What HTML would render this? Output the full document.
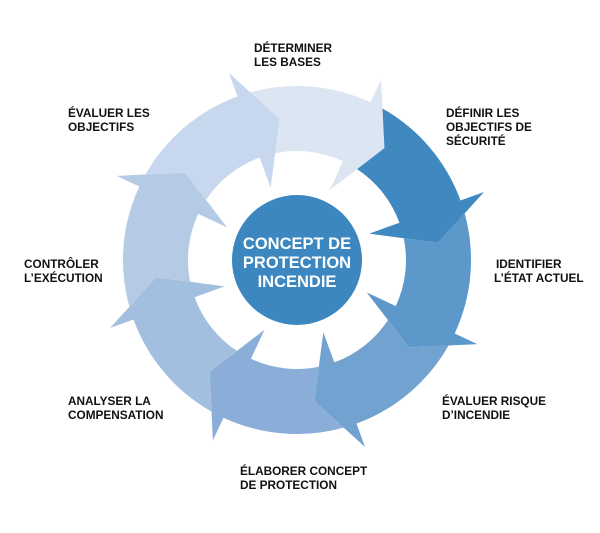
<!DOCTYPE html>
<html><head><meta charset="utf-8"><style>
html,body{margin:0;padding:0;background:#fff;width:600px;height:533px;overflow:hidden}
svg{display:block}
.l{font-family:"Liberation Sans",sans-serif;font-weight:bold;font-size:11.8px;fill:#111}
.c{font-family:"Liberation Sans",sans-serif;font-weight:bold;font-size:16.5px;fill:#fff}
</style></head><body>
<svg id="s" width="600" height="533" viewBox="0 0 600 533" xmlns="http://www.w3.org/2000/svg">
<g id="arrows"></g>
<circle cx="297" cy="260" r="65" fill="#3d87c0"/>
<text class="c" text-anchor="middle"><tspan x="297" y="249">CONCEPT DE</tspan><tspan x="297" y="268">PROTECTION</tspan><tspan x="297" y="287">INCENDIE</tspan></text>
<text class="l"><tspan x="254" y="52">DÉTERMINER</tspan><tspan x="254" y="66">LES BASES</tspan></text>
<text class="l"><tspan x="68" y="117">ÉVALUER LES</tspan><tspan x="68" y="131">OBJECTIFS</tspan></text>
<text class="l"><tspan x="446" y="117">DÉFINIR LES</tspan><tspan x="446" y="131">OBJECTIFS DE</tspan><tspan x="446" y="145">SÉCURITÉ</tspan></text>
<text class="l"><tspan x="496" y="268">IDENTIFIER</tspan><tspan x="494" y="282">L’ÉTAT ACTUEL</tspan></text>
<text class="l"><tspan x="24" y="268">CONTRÔLER</tspan><tspan x="24" y="282">L’EXÉCUTION</tspan></text>
<text class="l"><tspan x="442" y="405">ÉVALUER RISQUE</tspan><tspan x="442" y="419">D’INCENDIE</tspan></text>
<text class="l"><tspan x="68" y="405">ANALYSER LA</tspan><tspan x="68" y="419">COMPENSATION</tspan></text>
<text class="l"><tspan x="240" y="475">ÉLABORER CONCEPT</tspan><tspan x="240" y="489">DE PROTECTION</tspan></text>
</svg>
<script>
(function(){
var cx=297,cy=260,R=174,r=109,rm=142,RB=199,rb=77;
var cols=["#dce5f2","#3f88c0","#5c98c9","#72a2d0","#8aaed8","#a3bfe0","#b5cbe5","#c7d7ed"];
function P(a,rad){a=a*Math.PI/180;return [cx+rad*Math.cos(a),cy+rad*Math.sin(a)];}
function onLine(A,B,rad){
  var dx=B[0]-A[0],dy=B[1]-A[1],fx=A[0]-cx,fy=A[1]-cy;
  var a=dx*dx+dy*dy,b=2*(fx*dx+fy*dy),c=fx*fx+fy*fy-rad*rad;
  var d=Math.sqrt(Math.max(0,b*b-4*a*c));
  var t1=(-b-d)/(2*a),t2=(-b+d)/(2*a);
  var t=(t1>=0&&t1<=1)?t1:t2;
  return [A[0]+t*dx,A[1]+t*dy];
}
var g=document.getElementById("arrows"),html="";
for(var i=0;i<8;i++){
  var c=-90+45*i;
  var hb=c+25, tip=P(c+38,rm), bo=P(hb,RB), bi=P(hb,rb);
  var ho=P(hb,R), hi=P(hb,r);
  var ptip=P(c-7,rm), pbo=P(c-20,RB), pbi=P(c-20,rb);
  var to=onLine(pbo,ptip,R), ti=onLine(pbi,ptip,r);
  var f=function(p){return p[0].toFixed(2)+","+p[1].toFixed(2);};
  var d="M"+f(to)+" A"+R+","+R+" 0 0,1 "+f(ho)+" L"+f(bo)+" L"+f(tip)+" L"+f(bi)+" L"+f(hi)+
        " A"+r+","+r+" 0 0,0 "+f(ti)+" L"+f(ptip)+" Z";
  html+='<path d="'+d+'" fill="'+cols[i]+'"/>';
}
g.innerHTML=html;
})();
</script>
</body></html>
